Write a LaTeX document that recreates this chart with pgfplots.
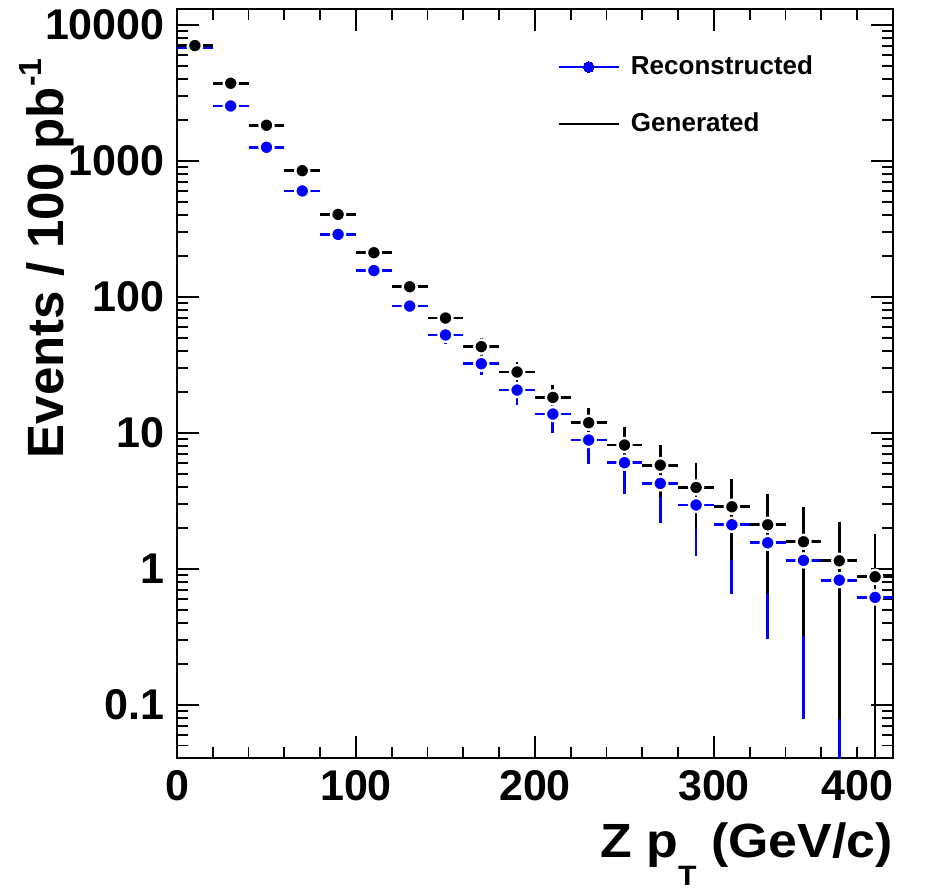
\documentclass[border=0pt]{standalone}
\usepackage{fontspec}
\setmainfont{Liberation Sans}
\usepackage{graphicx}
\usepackage{pgfplots}
\pgfplotsset{compat=1.18}
\usepackage{pgfplotstable}

\pgfplotstableread{
x    y      ep     em
10   6850   83     83
30   2535   50     50
50   1259   35.5   35.5
70   601    24.5   24.5
90   288    17     17
110  156    12.5   12.5
130  85.5   9.2    9.2
150  52.4   7.2    7.2
170  32.2   5.7    5.7
190  20.6   4.5    4.5
210  13.73  3.7    3.7
230  8.84   2.97   2.97
250  6.02   2.45   2.45
270  4.24   2.06   2.06
290  2.94   1.71   1.71
310  2.104  1.45   1.45
330  1.551  1.245  1.245
350  1.151  1.073  1.073
370  0.824  0.908  0.814
390  0.615  0.784  0.605
}\reco

\pgfplotstableread{
x    y      ep     em
10   7050   84     84
30   3725   61     61
50   1828   43     43
70   847    29     29
90   404    20     20
110  211    14.5   14.5
130  118.6  10.9   10.9
150  69.8   8.4    8.4
170  43.0   6.6    6.6
190  28.0   5.3    5.3
210  18.2   4.3    4.3
230  11.85  3.44   3.44
250  8.12   2.85   2.85
270  5.78   2.40   2.40
290  3.96   1.99   1.99
310  2.855  1.69   1.69
330  2.104  1.45   1.45
350  1.578  1.256  1.256
370  1.143  1.069  1.064
390  0.872  0.934  0.862
}\gen

\begin{document}
\begin{tikzpicture}
\useasboundingbox (0,0) rectangle (466.5pt,445pt);
\begin{axis}[
  at={(88.5pt,66pt)}, anchor=south west,
  scale only axis, width=358pt, height=374.5pt,
  xmin=0, xmax=400,
  ymode=log, ymin=0.0405, ymax=13100,
  axis line style={line width=1pt},
  tick style={line width=0.9pt, black},
  major tick length=11pt, minor tick length=5.5pt,
  tick align=inside,
  xtick={0,100,200,300,400},
  xticklabels={0,100,200,300,\llap{400}},
  minor x tick num=4,
  ytick={0.1,1,10,100,1000,10000},
  yticklabels={0.1,1,10,100,1000,\raisebox{-1.5pt}{10000}},
  minor ytick={0.05,0.06,0.07,0.08,0.09,0.2,0.3,0.4,0.5,0.6,0.7,0.8,0.9,2,3,4,5,6,7,8,9,20,30,40,50,60,70,80,90,200,300,400,500,600,700,800,900,2000,3000,4000,5000,6000,7000,8000,9000},
  tick label style={font=\fontsize{21.5}{24}\selectfont\bfseries, inner sep=0pt},
  xticklabel style={yshift=-6pt},
  yticklabel style={xshift=-6pt},
  xlabel={\scalebox{1.08}[1]{Z p\raisebox{-14pt}{\fontsize{14}{14}\selectfont T} (GeV/c)}},
  xlabel style={at={(axis description cs:1,-0.1322)}, anchor=base east, inner sep=0pt, font=\fontsize{24}{28}\selectfont\bfseries},
  ylabel={Events / 100 pb\raisebox{11pt}{\fontsize{16}{16}\selectfont -1}},
  ylabel style={at={(axis description cs:-0.1592,0.9346)}, anchor=base east, inner sep=0pt, font=\fontsize{25.5}{30}\selectfont\bfseries},
  legend image code/.code={\draw[mark repeat=2,mark phase=2,#1] plot coordinates {(0pt,0pt) (15pt,0pt) (30pt,0pt)};},
  legend style={draw=none, fill=none, at={(axis description cs:0.5307,0.9377)}, anchor=north west,
    font=\fontsize{13}{15}\selectfont\bfseries, inner sep=0pt, row sep=17.5pt,
    nodes={inner sep=0pt},
    /tikz/every odd column/.append style={column sep=5.5pt}},
  legend cell align=left,
]
\addplot[forget plot, blue, only marks, mark=*, mark size=3.5pt,
  mark options={fill=blue, draw=white, line width=1.2pt},
  error bars/.cd, x dir=both, x fixed=10, y dir=both, y explicit,
  error mark=none, error bar style={line width=1.4pt, blue}]
  table[x=x, y=y, y error plus=ep, y error minus=em]{\reco};
\addplot[forget plot, black, only marks, mark=*, mark size=3.5pt,
  mark options={fill=black, draw=white, line width=1.2pt},
  error bars/.cd, x dir=both, x fixed=10, y dir=both, y explicit,
  error mark=none, error bar style={line width=1.4pt, black}]
  table[x=x, y=y, y error plus=ep, y error minus=em]{\gen};
\addlegendimage{blue, line width=1.3pt, mark=*, mark size=2.7pt, mark options={fill=blue, draw=blue, line width=0pt}}
\addlegendentry{Reconstructed}
\addlegendimage{black, line width=1.1pt}
\addlegendentry{Generated}
\end{axis}
\end{tikzpicture}
\end{document}
